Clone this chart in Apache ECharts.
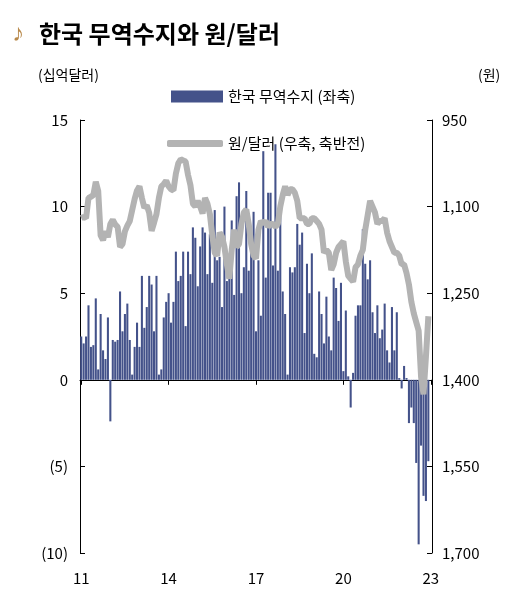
<!DOCTYPE html>
<html>
<head>
<meta charset="utf-8">
<script src="https://cdn.jsdelivr.net/npm/echarts@6/dist/echarts.min.js"></script>
<style>
	body { margin: 0; background: #fff; }
	#chartDiv { width: 530px; height: 591px; }
</style>
</head>
<body>
<div id="chartDiv"></div>
<script>
	// 월별 카테고리 (2011.01 ~ 2023.01)
	var months = [];
	for (var y = 2011; y <= 2023; y++) {
		for (var m = 1; m <= 12; m++) {
			if (y == 2023 && m > 1) break;
			months.push(y + "-" + m);
		}
	}
	// 무역수지 (십억달러)
	var tradeBalance = [
		2.5, 2.1, 2.5, 4.3, 1.9, 2.0, 4.7, 0.6, 3.8, 1.7, 1.2, 3.6,
		-2.4, 2.3, 2.2, 2.3, 5.1, 2.8, 3.8, 4.4, 2.3, 0.3, 1.9, 3.3,
		1.9, 6.0, 3.0, 4.2, 6.0, 5.5, 2.8, 6.0, 0.3, 0.6, 3.6, 4.5,
		5.0, 3.3, 4.5, 7.4, 5.7, 6.0, 7.4, 3.1, 7.4, 6.1, 8.8, 8.2,
		5.4, 7.7, 8.8, 8.5, 6.1, 8.4, 5.6, 9.8, 6.9, 7.1, 4.2, 10.0,
		5.7, 6.3, 9.2, 4.9, 10.6, 11.4, 5.0, 6.5, 10.9, 6.3, 8.4, 9.7,
		2.8, 6.9, 3.7, 13.2, 5.9, 10.8, 10.8, 6.6, 13.6, 6.3, 9.8, 5.1,
		3.8, 0.3, 6.5, 6.2, 6.5, 9.0, 7.8, 8.5, 2.7, 6.7, 5.0, 7.3,
		1.5, 1.3, 5.1, 3.8, 2.1, 4.8, 2.5, 1.7, 5.9, 5.3, 3.4, 5.6,
		0.5, 4.0, 0.2, -1.6, 0.4, 3.7, 4.3, 4.3, 8.7, 6.7, 5.8, 6.9,
		3.9, 2.7, 4.3, 2.4, 2.9, 4.4, 1.7, 1.0, 4.2, 1.7, 3.9, 0.1,
		-0.5, 0.8, 0.1, -2.5, -1.6, -2.5, -4.8, -9.5, -3.8, -6.7, -7.0, -4.7
	];
	// 원/달러 (월평균)
	var usdKrw = [
		1120, 1118, 1120, 1085, 1083, 1080, 1057, 1073, 1150, 1158, 1143, 1153,
		1130, 1123, 1131, 1135, 1170, 1165, 1143, 1133, 1125, 1106, 1087, 1072,
		1065, 1085, 1102, 1098, 1111, 1142, 1128, 1113, 1085, 1065, 1061, 1055,
		1065, 1070, 1072, 1043, 1025, 1018, 1020, 1022, 1045, 1063, 1095, 1100,
		1090, 1100, 1112, 1085, 1095, 1113, 1150, 1180, 1185, 1145, 1152, 1170,
		1200, 1225, 1175, 1140, 1170, 1165, 1130, 1110, 1105, 1130, 1165, 1185,
		1190, 1140, 1125, 1130, 1125, 1135, 1130, 1130, 1135, 1130, 1100, 1080,
		1065, 1080, 1070, 1070, 1076, 1090, 1120, 1120, 1120, 1130, 1130, 1120,
		1120, 1125, 1130, 1140, 1180, 1175, 1180, 1210, 1200, 1180, 1170, 1165,
		1160, 1195, 1220, 1225, 1230, 1205, 1200, 1185, 1175, 1140, 1115, 1090,
		1100, 1110, 1130, 1125, 1125, 1120, 1145, 1160, 1170, 1180, 1180, 1185,
		1200, 1200, 1215, 1235, 1265, 1285, 1300, 1315, 1395, 1425, 1360, 1290
	];
	var barName = "한국 무역수지 (좌축)";
	var lineName = "원/달러 (우축, 축반전)";
	var font = "'Noto Sans CJK KR', sans-serif";

	var chart = echarts.init(document.getElementById('chartDiv'));
	chart.setOption({
		animation: false,
		textStyle: { fontFamily: font, color: '#000' },
		title: {
			text: "한국 무역수지와 원/달러",
			left: 34, top: 17,
			textStyle: { fontSize: 24, fontWeight: 'bold', fontFamily: font, color: '#000' }
		},
		graphic: [
			{ type: 'text', left: 12, top: 22, style: { text: "♪", fontSize: 24, fill: '#b8894a', fontWeight: 'bold' } },
			{ type: 'text', left: 38, top: 68, style: { text: "(십억달러)", fontSize: 14, fontFamily: font, fill: '#000' } },
			{ type: 'text', left: 478, top: 68, style: { text: "(원)", fontSize: 14, fontFamily: font, fill: '#000' } }
		],
		legend: [
			{ data: [{ name: barName, icon: 'rect' }], left: 166, top: 84, itemWidth: 52, itemHeight: 12,
			  textStyle: { fontSize: 15, fontFamily: font, color: '#000' } },
			{ data: [{ name: lineName, icon: 'roundRect' }], left: 162, top: 131, itemWidth: 56, itemHeight: 7,
			  textStyle: { fontSize: 15, fontFamily: font, color: '#000' } }
		],
		grid: { left: 80, right: 98, top: 120, bottom: 38 },
		xAxis: [
			{ type: 'category', data: months, axisLine: { onZero: true, onZeroAxisIndex: 0, lineStyle: { color: '#000' } },
			  axisTick: { show: true, alignWithLabel: true, interval: function (i) { return i % 36 == 0; }, lineStyle: { color: '#000' } },
			  axisLabel: { show: false } },
			{ type: 'category', data: months, position: 'bottom', axisLine: { show: false }, axisTick: { show: false },
			  axisLabel: { interval: function (i) { return i % 36 == 0; }, fontSize: 15, color: '#000', margin: 18,
			               formatter: function (v) { return v.slice(2, 4); } } }
		],
		yAxis: [
			{ type: 'value', min: -10, max: 15, interval: 5, splitLine: { show: false },
			  axisLine: { show: true, lineStyle: { color: '#000' } },
			  axisTick: { show: true, inside: true, length: 5, lineStyle: { color: '#000' } },
			  axisLabel: { fontSize: 15, color: '#000', margin: 12,
			               formatter: function (v) { return v < 0 ? '(' + (-v) + ')' : v; } } },
			{ type: 'value', inverse: true, min: 950, max: 1700, interval: 150, splitLine: { show: false },
			  axisLine: { show: true, lineStyle: { color: '#000' } },
			  axisTick: { show: true, inside: true, length: 5, lineStyle: { color: '#000' } },
			  axisLabel: { fontSize: 15, color: '#000', margin: 10,
			               formatter: function (v) { return v.toLocaleString('en-US'); } } }
		],
		series: [
			{ name: barName, type: 'bar', data: tradeBalance, xAxisIndex: 0, yAxisIndex: 0,
			  barCategoryGap: '15%', itemStyle: { color: '#44528a' } },
			{ name: lineName, type: 'line', data: usdKrw, xAxisIndex: 1, yAxisIndex: 1,
			  showSymbol: false, symbol: 'none', lineStyle: { color: '#b3b3b3', width: 6 },
			  itemStyle: { color: '#b3b3b3' } }
		]
	});
</script>
</body>
</html>
